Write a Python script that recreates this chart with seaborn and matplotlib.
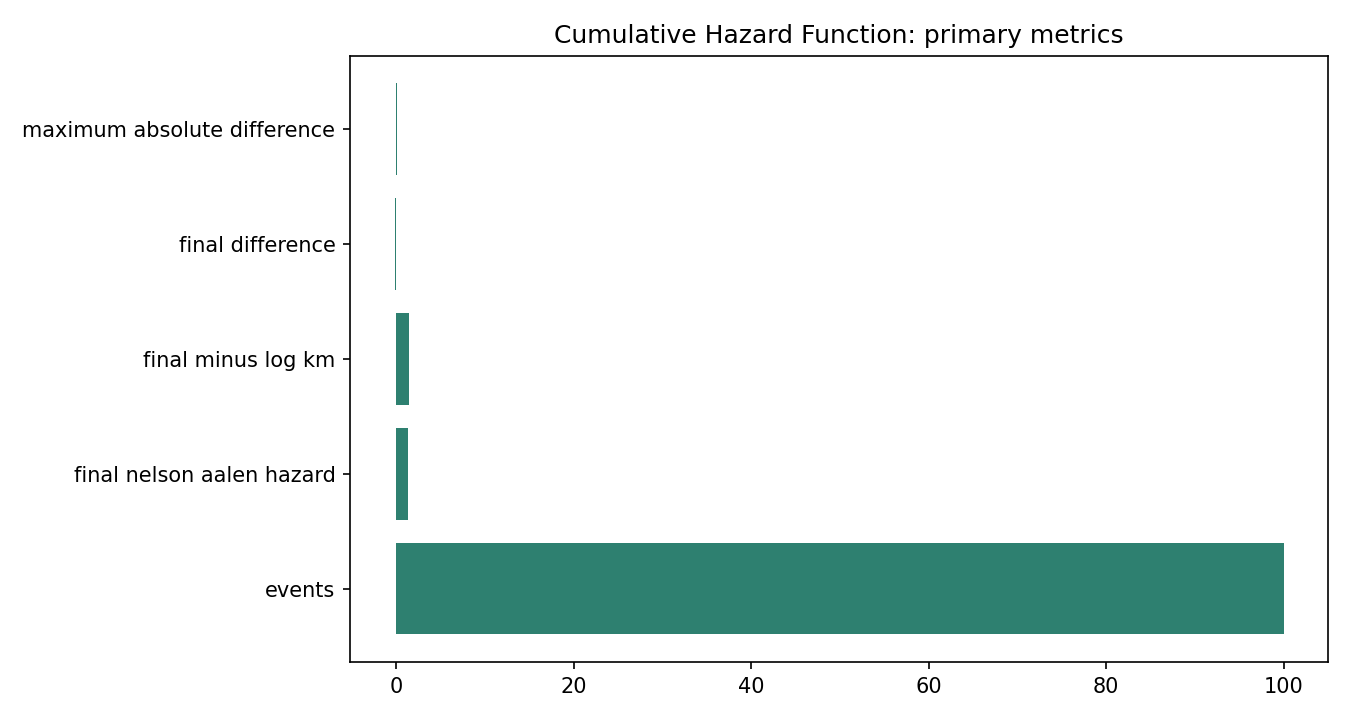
import matplotlib
matplotlib.use("Agg")
import matplotlib.pyplot as plt
import seaborn as sns
import pandas as pd

metrics = ["maximum absolute difference", "final difference", "final minus log km",
           "final nelson aalen hazard", "events"]
values = [0.1, -0.2, 1.47, 1.35, 100.0]

df = pd.DataFrame({"metric": metrics, "value": values})

fig = plt.figure(figsize=(9, 4.8), dpi=150)
ax = fig.add_axes([0.2593, 0.0806, 0.7244, 0.8417])
sns.barplot(data=df, x="value", y="metric", orient="h", color="#2E8070",
            saturation=1, width=0.8, linewidth=0, edgecolor="none", ax=ax)
n = len(metrics)
pad = 0.05 * (n - 1 + 0.8)
ax.set_ylim(n - 1 + 0.4 + pad, -0.4 - pad)
ax.set_title("Cumulative Hazard Function: primary metrics", fontsize=12)
ax.set_xlabel("")
ax.set_ylabel("")
fig.savefig("out.png", dpi=150)
